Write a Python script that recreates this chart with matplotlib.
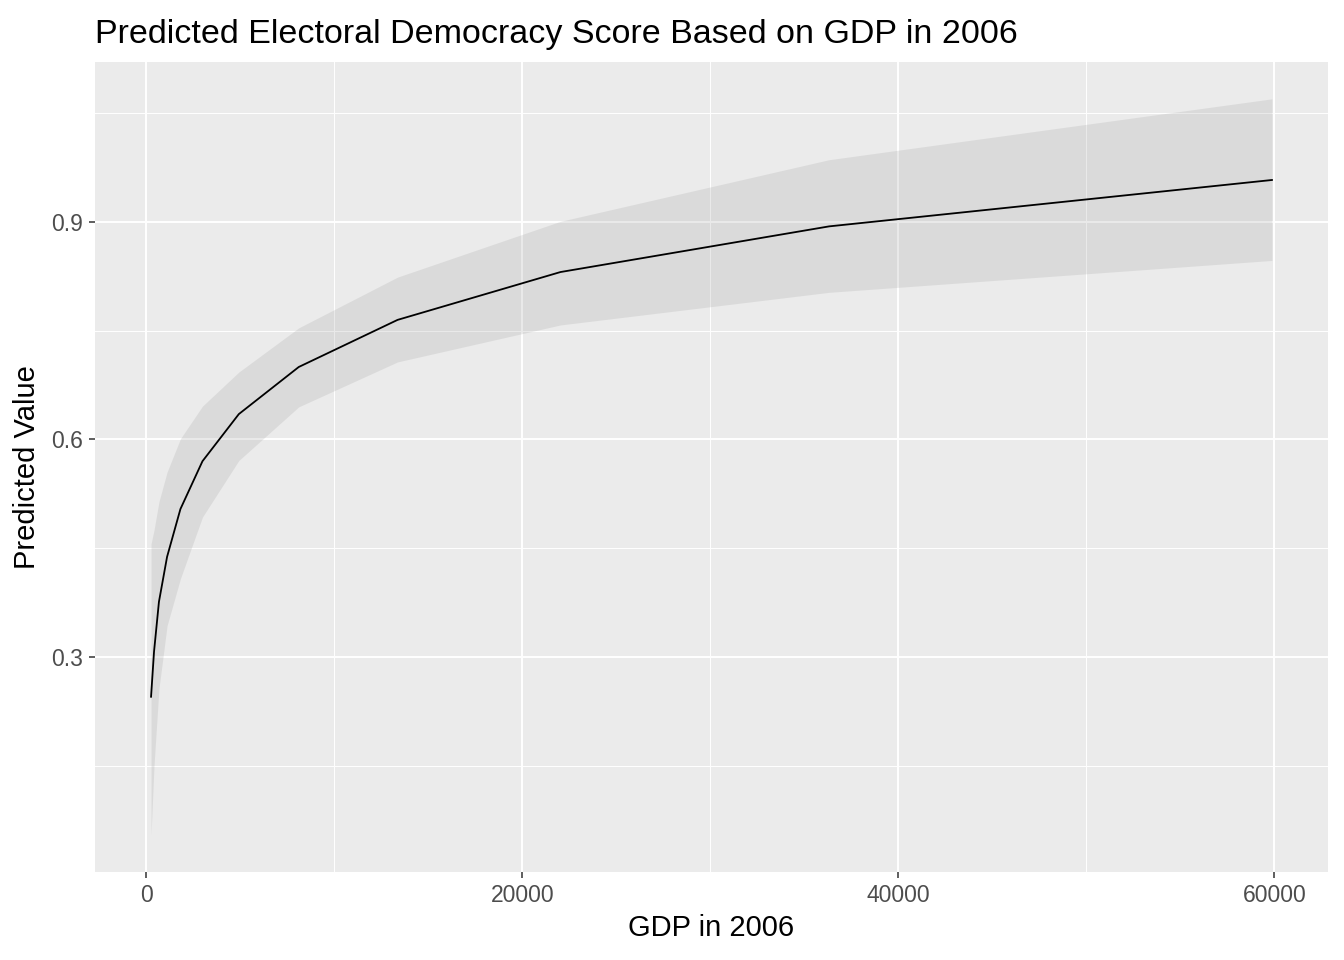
import matplotlib
matplotlib.use("Agg")
import matplotlib.pyplot as plt
from matplotlib.ticker import MultipleLocator

plt.rcParams["font.family"] = ["Liberation Sans", "DejaVu Sans"]

# predicted values
gdp = [245, 403, 665, 1097, 1808, 2981, 4915, 8103, 13360, 22026, 36316, 59874]
predicted = [0.245, 0.307, 0.376, 0.438, 0.504, 0.570, 0.635, 0.700, 0.765, 0.831, 0.894, 0.958]
upper = [0.456, 0.475, 0.514, 0.555, 0.601, 0.646, 0.693, 0.754, 0.824, 0.901, 0.986, 1.070]
lower = [0.054, 0.150, 0.256, 0.343, 0.408, 0.493, 0.571, 0.645, 0.707, 0.758, 0.803, 0.847]

x_ticks = [0, 20000, 40000, 60000]
y_ticks = [0.3, 0.6, 0.9]

fig = plt.figure(figsize=(13.44, 9.6), dpi=100)
ax = fig.add_axes([95 / 1344, 88 / 960, (1328 - 95) / 1344, (872 - 62) / 960])
ax.set_facecolor("#ebebeb")

ax.fill_between(gdp, lower, upper, color="#999999", alpha=0.2, linewidth=0, zorder=2)
ax.plot(gdp, predicted, color="black", linewidth=1.3, zorder=3)

# ggplot style 5% expansion
xr = max(gdp) - min(gdp)
ax.set_xlim(min(gdp) - 0.05 * xr, max(gdp) + 0.05 * xr)
yr = max(upper) - min(lower)
ax.set_ylim(min(lower) - 0.05 * yr, max(upper) + 0.05 * yr)

ax.set_xticks(x_ticks)
ax.set_xticklabels([str(t) for t in x_ticks])
ax.set_yticks(y_ticks)
ax.set_yticklabels([f"{t:.1f}" for t in y_ticks])
ax.xaxis.set_minor_locator(MultipleLocator(10000))
ax.yaxis.set_minor_locator(MultipleLocator(0.15))

ax.grid(which="major", color="white", linewidth=1.4, zorder=1)
ax.grid(which="minor", color="white", linewidth=0.7, zorder=1)
ax.set_axisbelow(True)
for s in ax.spines.values():
    s.set_visible(False)

ax.tick_params(which="major", length=4, width=1.1, color="#333333",
               labelsize=16.5, labelcolor="#4d4d4d", pad=5)
ax.tick_params(which="minor", length=0)

ax.set_xlabel("GDP in 2006", fontsize=21, labelpad=5)
ax.set_ylabel("Predicted Value", fontsize=21, labelpad=7)
ax.set_title("Predicted Electoral Democracy Score Based on GDP in 2006",
             fontsize=24.5, loc="left", pad=14)

fig.savefig("out.png", dpi=100)
